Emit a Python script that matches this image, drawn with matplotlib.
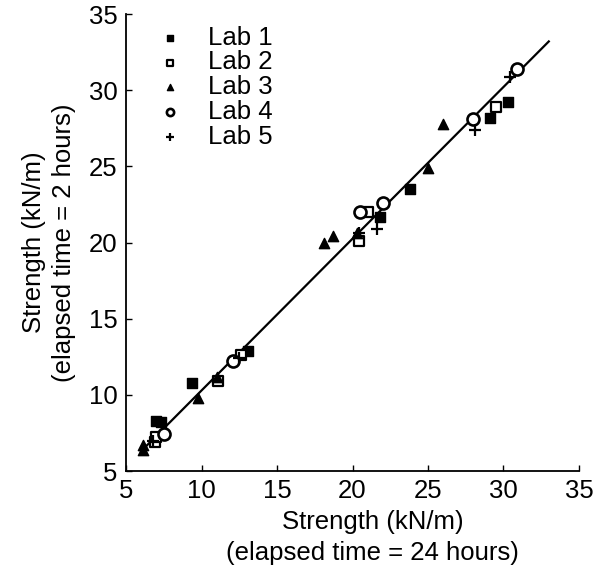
import matplotlib
matplotlib.use('Agg')
import matplotlib.pyplot as plt

plt.rcParams['font.family'] = ['Liberation Sans', 'DejaVu Sans']

# strength after 24 h (x) vs after 2 h (y), per lab
lab1_x = [7.0, 7.3, 9.4, 13.1, 21.8, 23.8, 29.1, 30.3]
lab1_y = [8.3, 8.2, 10.8, 12.9, 21.7, 23.5, 28.2, 29.2]
lab2_x = [6.9, 7.0, 11.1, 12.6, 20.4, 21.0, 29.5]
lab2_y = [6.9, 7.2, 10.9, 12.6, 20.1, 22.0, 28.9]
lab3_x = [6.1, 6.1, 9.8, 11.0, 18.1, 18.7, 20.3, 25.0, 26.0]
lab3_y = [6.4, 6.7, 9.8, 11.2, 20.0, 20.4, 20.6, 24.9, 27.8]
lab4_x = [7.5, 12.1, 20.5, 22.0, 28.0, 30.9]
lab4_y = [7.4, 12.2, 22.0, 22.6, 28.1, 31.4]
lab5_x = [6.8, 12.5, 20.4, 21.6, 28.1, 30.4]
lab5_y = [7.0, 12.4, 20.6, 20.9, 27.4, 30.85]

fit_x = [6.0, 33.0]
fit_y = [6.3, 33.2]

ticks = [5, 10, 15, 20, 25, 30, 35]

fig = plt.figure(figsize=(5.95, 5.77), dpi=100)
ax = fig.add_axes([0.2118, 0.1837, 0.7613, 0.792])

ax.plot(fit_x, fit_y, color='black', linewidth=1.6, zorder=1)

ax.scatter(lab1_x, lab1_y, marker='s', s=45, color='black', label='Lab 1', zorder=3)
ax.scatter(lab2_x, lab2_y, marker='s', s=45, facecolors='white',
           edgecolors='black', linewidths=1.6, label='Lab 2', zorder=3)
ax.scatter(lab3_x, lab3_y, marker='^', s=55, color='black', label='Lab 3', zorder=3)
ax.scatter(lab4_x, lab4_y, marker='o', s=75, facecolors='white',
           edgecolors='black', linewidths=1.9, label='Lab 4', zorder=3)
ax.scatter(lab5_x, lab5_y, marker='+', s=75, color='black',
           linewidths=1.6, label='Lab 5', zorder=3)

ax.set_xlim(5, 35)
ax.set_ylim(5, 35)
ax.set_xticks(ticks)
ax.set_yticks(ticks)
ax.tick_params(direction='in', length=4, width=1, labelsize=18.5, pad=6)
for side in ['top', 'right']:
    ax.spines[side].set_visible(False)
for side in ['left', 'bottom']:
    ax.spines[side].set_linewidth(1.3)

ax.set_xlabel('Strength (kN/m)\n(elapsed time = 24 hours)', fontsize=18.5,
              linespacing=1.4)
ax.xaxis.set_label_coords(0.545, -0.085, transform=ax.transAxes)
ax.xaxis.label.set_va('top')
ax.set_ylabel('Strength (kN/m)\n(elapsed time = 2 hours)', fontsize=18.5,
              linespacing=1.35, labelpad=9)

leg = ax.legend(loc='upper left', bbox_to_anchor=(0.045, 0.997), frameon=False,
                fontsize=18.5, markerscale=0.6, handletextpad=1.0,
                labelspacing=0.03, handlelength=1.0, borderaxespad=0)

fig.savefig('out.png', dpi=100)
